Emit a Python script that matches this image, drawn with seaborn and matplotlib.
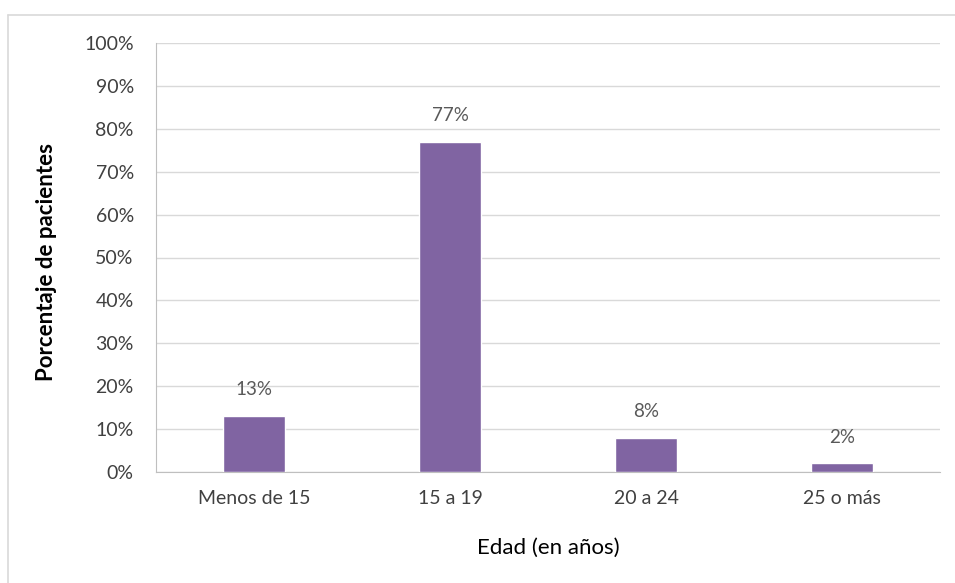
import numpy as np
import pandas as pd
import matplotlib
matplotlib.use("Agg")
import matplotlib.pyplot as plt
from matplotlib.lines import Line2D
from matplotlib.ticker import PercentFormatter
import seaborn as sns

# data
categorias = ["Menos de 15", "15 a 19", "20 a 24", "25 o más"]
porcentajes = [13, 77, 8, 2]
etiquetas = ["13%", "77%", "8%", "2%"]

df = pd.DataFrame({"Edad": categorias, "Porcentaje": porcentajes})

sns.set_style("white")
plt.rcParams["font.family"] = ["Lato", "DejaVu Sans"]

fig = plt.figure(figsize=(9.55, 5.83), dpi=100)
ax = fig.add_axes([156 / 955, 1 - 472 / 583, (940 - 156) / 955, (472 - 43) / 583])

sns.barplot(data=df, x="Edad", y="Porcentaje", color="#8064A2",
            width=0.32, saturation=1, ax=ax, zorder=3)

# value labels above bars
for i, (v, t) in enumerate(zip(porcentajes, etiquetas)):
    ax.annotate(t, xy=(i, v), xytext=(0, 19), textcoords="offset points",
                ha="center", va="center", fontsize=13.5, color="#595959")

ax.set_ylim(0, 100)
ax.set_yticks(np.arange(0, 101, 10))
ax.yaxis.set_major_formatter(PercentFormatter(decimals=0))
ax.set_xlim(-0.5, 3.5)
ax.grid(axis="y", color="#d9d9d9", linewidth=1, zorder=0)
ax.set_axisbelow(True)

for s in ["top", "right"]:
    ax.spines[s].set_visible(False)
ax.spines["left"].set_color("#bfbfbf")
ax.spines["bottom"].set_color("#bfbfbf")
ax.tick_params(axis="both", length=0, labelsize=14, labelcolor="#404040")
ax.tick_params(axis="y", pad=16)
ax.tick_params(axis="x", pad=13)

ax.set_xlabel("Edad (en años)", fontsize=16, color="#000000", labelpad=22)
ax.set_ylabel("Porcentaje de pacientes", fontsize=16, fontweight="bold",
              color="#000000")
ax.yaxis.set_label_coords(-0.126, 0.49)

# outer chart frame (partly cropped in the reference)
fig.add_artist(Line2D([8 / 955, 8 / 955], [0, 1 - 15 / 583], color="#d9d9d9", lw=1.2))
fig.add_artist(Line2D([8 / 955, 1], [1 - 15 / 583, 1 - 15 / 583], color="#d9d9d9", lw=1.2))

fig.savefig("out.png", dpi=100)
